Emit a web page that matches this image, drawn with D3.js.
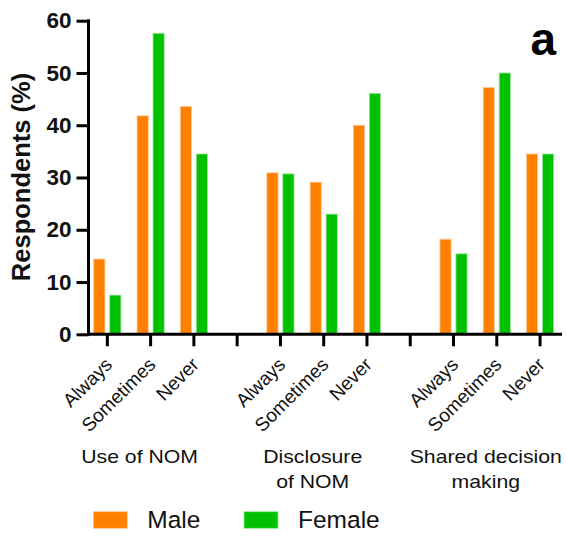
<!DOCTYPE html>
<html>
<head>
<meta charset="utf-8">
<script src="https://cdn.jsdelivr.net/npm/d3@7"></script>
<style>
  html, body { margin: 0; padding: 0; background: #fff; }
  svg { display: block; font-family: "Liberation Sans", Arial, sans-serif; }
</style>
</head>
<body>
<svg id="chart" width="566" height="537"></svg>
<script>
// ---- data ----
const groups = ["Use of NOM", "Disclosure of NOM", "Shared decision making"];
const groupLines = [["Use of NOM"], ["Disclosure", "of NOM"], ["Shared decision", "making"]];
const answers = ["Always", "Sometimes", "Never"];
const series = ["Male", "Female"];
const maleValues   = [14.4, 41.8, 43.6,  30.9, 29.1, 40.0,  18.2, 47.2, 34.5];
const femaleValues = [7.5, 57.6, 34.5,  30.7, 23.0, 46.1,  15.4, 50.0, 34.5];
const yTicks = [0, 10, 20, 30, 40, 50, 60];
const colors = { Male: "#FF8000", Female: "#00C000" };
const strokes = { Male: "#FFC89A", Female: "#9EE89E" };

// ---- build slots (with a spacer slot between groups) ----
const slots = [];
groups.forEach((g, gi) => {
  answers.forEach((a, ai) => slots.push({ key: g + "|" + a, group: g, answer: a, idx: gi * 3 + ai }));
  if (gi < groups.length - 1) slots.push({ key: "gap" + gi, group: null, answer: "", idx: -1 });
});
const rows = [];
slots.forEach(s => {
  if (s.idx >= 0) {
    rows.push({ slot: s.key, series: "Male", value: maleValues[s.idx] });
    rows.push({ slot: s.key, series: "Female", value: femaleValues[s.idx] });
  }
});

const svg = d3.select("#chart");
const x = d3.scaleBand().domain(slots.map(s => s.key)).range([85.7, 561.7]).padding(0);
const xSub = d3.scaleBand().domain(series).range([-13.6, 13.6]).paddingInner(0.3);
const y = d3.scaleLinear().domain([0, 60]).range([334.3, 20.7]);
const cx = k => x(k) + x.bandwidth() / 2;

// bars
svg.append("g").selectAll("rect").data(rows).join("rect")
  .attr("x", d => cx(d.slot) + xSub(d.series))
  .attr("width", xSub.bandwidth())
  .attr("y", d => y(d.value))
  .attr("height", d => y(0) - y(d.value))
  .attr("fill", d => colors[d.series])
  .attr("stroke", d => strokes[d.series])
  .attr("stroke-width", 0.8);

// y axis
const yAxis = svg.append("g").attr("transform", "translate(88.5,0)")
  .call(d3.axisLeft(y).tickValues(yTicks).tickSize(12).tickPadding(5));
yAxis.select(".domain").attr("stroke", "#000").attr("stroke-width", 3)
  .attr("d", `M0,${y(60) - 1.5}V${y(0) + 1.5}`);
yAxis.selectAll(".tick line").attr("stroke", "#000").attr("stroke-width", 3);
yAxis.selectAll(".tick text").attr("fill", "#111").attr("font-size", 22.5).attr("font-weight", "bold")
  .attr("font-family", "'Liberation Sans', Arial, sans-serif");

// x axis
const xAxis = svg.append("g").attr("transform", `translate(0,${y(0)})`)
  .call(d3.axisBottom(x).tickSize(12).tickFormat(() => ""));
xAxis.select(".domain").attr("stroke", "#000").attr("stroke-width", 3)
  .attr("d", `M88.5,0H562`);
xAxis.selectAll(".tick line").attr("stroke", "#000").attr("stroke-width", 3);

// rotated category labels
svg.append("g").selectAll("text").data(slots.filter(s => s.idx >= 0)).join("text")
  .attr("transform", d => `translate(${cx(d.key) + 6},${y(0) + 31.5}) rotate(-45)`)
  .attr("text-anchor", "end")
  .attr("font-size", 19)
  .attr("fill", "#111")
  .text(d => d.answer);

// group labels (slightly wide lettering, as in the original export)
const groupCenters = groups.map(g => d3.mean(slots.filter(s => s.group === g), s => cx(s.key)));
groupLines.forEach((lines, gi) => {
  const gx = groupCenters[gi] - 11;
  const t = svg.append("text")
    .attr("transform", `translate(${gx},463.3) scale(1.13,1)`)
    .attr("text-anchor", "middle")
    .attr("font-size", 18.8)
    .attr("fill", "#111");
  lines.forEach((l, li) => t.append("tspan").attr("x", 0).attr("y", li * 25).text(l));
});

// y axis title
svg.append("text")
  .attr("transform", `translate(29.5,177) rotate(-90)`)
  .attr("text-anchor", "middle")
  .attr("font-size", 25.5)
  .attr("font-weight", "bold")
  .attr("fill", "#111")
  .text("Respondents (%)");

// panel letter
svg.append("text")
  .attr("x", 556).attr("y", 55)
  .attr("text-anchor", "end")
  .attr("font-size", 46)
  .attr("font-weight", "bold")
  .attr("fill", "#000")
  .text("a");

// legend
const legendX = [93.3, 244];
const leg = svg.append("g").selectAll("g").data(series).join("g")
  .attr("transform", (d, i) => `translate(${legendX[i]},511.7)`);
leg.append("rect").attr("width", 34).attr("height", 16.6)
  .attr("fill", d => colors[d]).attr("stroke", d => strokes[d]).attr("stroke-width", 0.8);
leg.append("text").attr("x", 54).attr("y", 16.6).attr("font-size", 24.5).attr("fill", "#111").text(d => d);
</script>
</body>
</html>
